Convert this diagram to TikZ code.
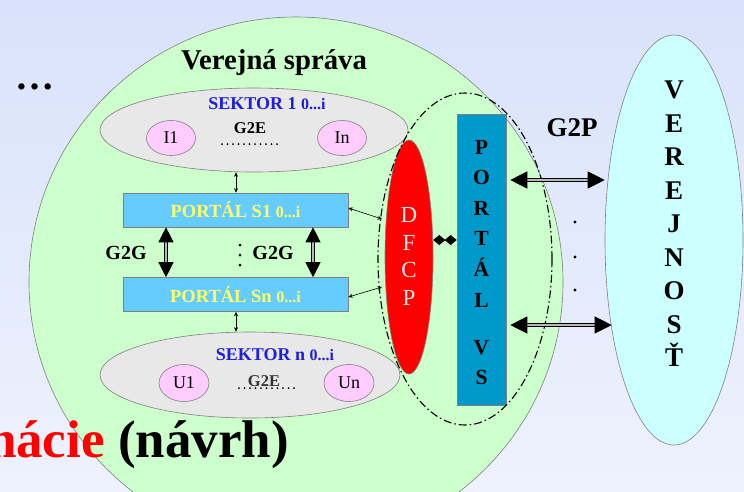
\documentclass[tikz,border=0pt]{standalone}
\usepackage{fontspec}
\setmainfont{Liberation Serif}
\usetikzlibrary{shapes.geometric,arrows.meta,calc}
\definecolor{bgtop}{RGB}{216,226,250}
\definecolor{bgbot}{RGB}{238,242,253}
\definecolor{vsgreen}{RGB}{204,255,204}
\definecolor{vercyan}{RGB}{204,255,255}
\definecolor{sekgray}{RGB}{232,232,232}
\definecolor{pinkI}{RGB}{255,204,255}
\definecolor{portblue}{RGB}{102,204,255}
\definecolor{vsblue}{RGB}{0,153,204}
\definecolor{portyellow}{RGB}{255,255,102}
\definecolor{sekblue}{RGB}{30,30,220}
\definecolor{dfcptext}{RGB}{255,232,232}
\newcommand\fsz[1]{\fontsize{#1pt}{#1pt}\selectfont}
\newcommand\fszb[2]{\fontsize{#1pt}{#2pt}\selectfont}
\begin{document}
\begin{tikzpicture}[x=1pt,y=-1pt,
  ell/.style={ellipse,draw=gray,line width=0.6pt,inner sep=0pt},
  smallell/.style={ell,fill=pinkI,minimum width=49pt,minimum height=35pt,font=\fsz{18}},
  portalbox/.style={rectangle,draw=gray,line width=0.6pt,fill=portblue,minimum width=225pt,minimum height=34pt,text=portyellow,font=\bfseries,inner sep=0pt},
  smallarr/.style={line width=0.6pt,{Stealth[length=4.5pt,width=4pt]}-{Stealth[length=4.5pt,width=4pt]}},
  g2garr/.style={line width=0.9pt,double=gray!55,double distance=2.6pt,{Triangle[length=15pt,width=15pt]}-{Triangle[length=15pt,width=15pt]}},
  g2parr/.style={line width=0.9pt,double=gray!55,double distance=2.6pt,{Triangle[length=17pt,width=17pt]}-{Triangle[length=17pt,width=17pt]}},
  dotline/.style={line width=2pt,line cap=round,dash pattern=on 0pt off 5.5pt},
  lbl/.style={font=\bfseries\fsz{20}}
]
\useasboundingbox (0,0) rectangle (744,491);
\clip (0,0) rectangle (744,491);
\shade[top color=bgtop,bottom color=bgbot] (0,0) rectangle (744,491);

% big circle
\node[ell,fill=vsgreen,minimum width=534pt,minimum height=530pt] (vs) at (296,282) {};
\node[font=\bfseries\fsz{28.7}] (vstitle) at (274,63) {Verejná správa};
\node[font=\bfseries\fsz{39},anchor=base] (leftdots) at (35,89) {…};

% sector 1
\node[ell,fill=sekgray,minimum width=308pt,minimum height=84pt] (sek1) at (254,130) {};
\node[text=sekblue,font=\bfseries] (sek1t) at (267,104) {\fsz{18}SEKTOR 1 \fsz{16}0...i};
\node[smallell] (I1) at (171,138) {I1};
\node[smallell] (In) at (342,138) {In};
\node[font=\bfseries\fsz{16.5}] (g2e1) at (250,128) {G2E};
\coordinate (d1a) at (222,144);
\coordinate (d1b) at (278,144);
\draw[dotline] (d1a) -- (d1b);

% portals
\node[portalbox] (ps1) at (235.5,210) {\fsz{18.5}PORTÁL S1 \fsz{16}0...i};
\node[portalbox] (psn) at (235.5,294.5) {\fsz{18.5}PORTÁL Sn \fsz{16}0...i};

% sector n
\node[ell,fill=sekgray,minimum width=300pt,minimum height=86pt] (sekn) at (250,375) {};
\node[text=sekblue,font=\bfseries] (sekntt) at (275,355) {\fsz{18}SEKTOR n \fsz{16}0...i};
\node[smallell,minimum width=50pt,minimum height=37pt] (U1) at (184,383) {U1};
\node[smallell,minimum width=50pt,minimum height=37pt] (Un) at (349,383) {Un};
\coordinate (d2a) at (239,388);
\coordinate (d2b) at (295,388);
\draw[dotline] (d2a) -- (d2b);
\node[font=\bfseries\fsz{16.5},text=black!80,anchor=base] (g2e2) at (264,386) {G2E};

% connectors sector <-> portal
\coordinate (ax) at (236,0);
\draw[smallarr] (sek1.south -| ax) -- (ps1.north -| ax);
\draw[smallarr] (psn.south -| ax) -- (sekn.north -| ax);

% G2G
\coordinate (gx1) at (166,0);
\coordinate (gx2) at (313,0);
\draw[g2garr] (ps1.south -| gx1) -- (psn.north -| gx1);
\draw[g2garr] (ps1.south -| gx2) -- (psn.north -| gx2);
\node[lbl] (g2g1) at (126,253) {G2G};
\node[lbl] (g2g2) at (273,253) {G2G};
\fill (240,245) circle (1.5) (240,255) circle (1.5) (240,265) circle (1.5);

% DFCP
\node[ell,fill=red,minimum width=48pt,minimum height=234pt] (dfcp) at (409,257) {};
\node[text=dfcptext,align=center,font=\fszb{23}{27.7},inner sep=0pt] (dfcpt) at (409,256.5)
  {D\\F\\C\\P};

% Portal VS
\node[rectangle,draw=gray,line width=0.6pt,fill=vsblue,minimum width=49pt,minimum height=291pt,inner sep=0pt] (pvs) at (481.5,259.5) {};
\node[align=center,font=\bfseries\fszb{21.5}{30.6},inner sep=0pt] (pvst) at (481.5,262.5)
  {P\\O\\R\\T\\Á\\L\\[16.4pt]V\\S};

% Verejnost
\node[ell,fill=vercyan,minimum width=138pt,minimum height=410pt] (ver) at (674,240) {};
\node[align=center,font=\bfseries\fszb{27}{33.5},inner sep=0pt] (vert) at (674,224)
  {V\\E\\R\\E\\J\\N\\O\\S\\Ť};

% dash-dot boundary
\node[ellipse,draw=black,line width=1.1pt,dash pattern=on 8pt off 3pt on 1.5pt off 3pt,minimum width=174pt,minimum height=332pt,inner sep=0pt] (dd) at (465,259) {};

% portal sectors -> DFCP
\coordinate (t1) at (382,219);
\coordinate (t2) at (382,287);
\draw[smallarr] ([yshift=2pt]ps1.east) -- (t1);
\draw[smallarr] ([yshift=-2.5pt]psn.east) -- (t2);

% DFCP <-> portal VS
\draw[line width=0.8pt,{Diamond[length=12pt,width=10pt]}-{Diamond[length=12pt,width=10pt]}] ([yshift=17pt]dfcp.east) -- ([yshift=19.5pt]pvs.west);

% G2P
\coordinate (r1) at (0,180);
\coordinate (r2) at (0,325);
\coordinate (g1a) at ($(pvs.east |- r1)+(4,0)$);
\coordinate (g1b) at (ver.west |- r1);
\coordinate (g2a) at ($(pvs.east |- r2)+(4,0)$);
\coordinate (g2b) at ($(ver.west |- r2)+(7,0)$);
\draw[g2parr] (g1a) -- (g1b);
\draw[g2parr] (g2a) -- (g2b);
\node[font=\bfseries\fsz{27}] (g2p) at (572,128) {G2P};
\fill (575,222) circle (1.6) (575,257) circle (1.6) (575,290) circle (1.6);

% bottom title
\node[anchor=base east,font=\bfseries\fsz{53},inner sep=0pt] (title) at (289,457) {\textcolor{red}{nácie} (návrh)};
\end{tikzpicture}
\end{document}
